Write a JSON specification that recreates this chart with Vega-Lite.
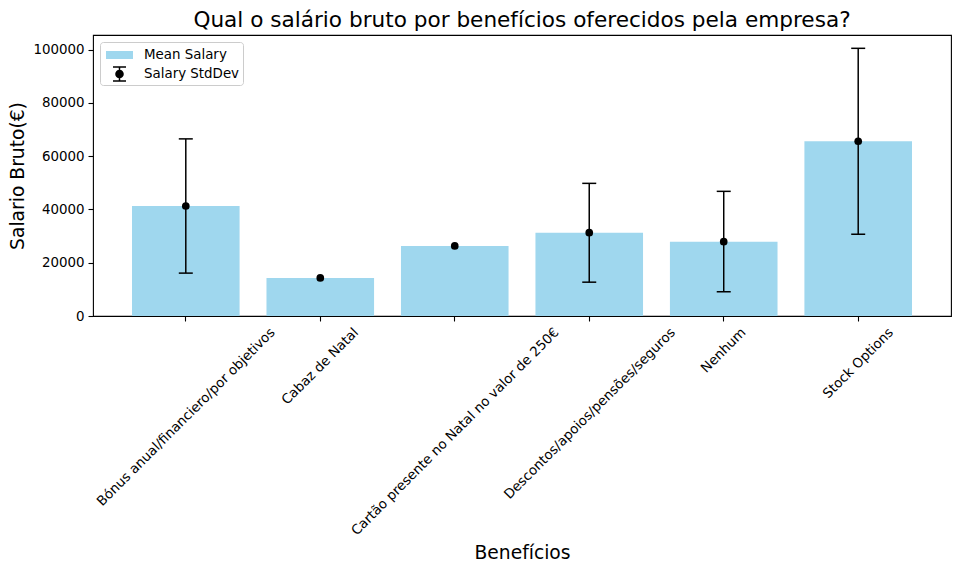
{
  "$schema": "https://vega.github.io/schema/vega-lite/v6.json",
  "description": "Salário bruto médio e desvio padrão por benefício",
  "width": 858,
  "height": 281,
  "autosize": {"type": "none"},
  "padding": {"left": 93, "top": 35, "right": 9, "bottom": 256},
  "background": "white",
  "title": {
    "text": "Qual o salário bruto por benefícios oferecidos pela empresa?",
    "fontSize": 21.6,
    "fontWeight": "normal",
    "color": "black",
    "anchor": "middle",
    "frame": "group",
    "baseline": "bottom",
    "offset": 4,
    "dy": 23
  },
  "data": {
    "values": [
      {"beneficio": "Bónus anual/financiero/por objetivos", "mean": 41300, "lo": 16100, "hi": 66500},
      {"beneficio": "Cabaz de Natal", "mean": 14300, "lo": null, "hi": null},
      {"beneficio": "Cartão presente no Natal no valor de 250€", "mean": 26300, "lo": null, "hi": null},
      {"beneficio": "Descontos/apoios/pensões/seguros", "mean": 31300, "lo": 12700, "hi": 49800},
      {"beneficio": "Nenhum", "mean": 27900, "lo": 9100, "hi": 46800},
      {"beneficio": "Stock Options", "mean": 65600, "lo": 30700, "hi": 100500}
    ]
  },
  "encoding": {
    "x": {
      "field": "beneficio",
      "type": "nominal",
      "sort": null,
      "title": "Benefícios",
      "scale": {"paddingInner": 0.2, "paddingOuter": 0.29},
      "axis": {
        "labelAngle": -45,
        "labelAlign": "right",
        "labelBaseline": "top",
        "labelPadding": 4,
        "labelLimit": 0,
        "titlePadding": 27,
        "labelOffset": {
          "condition": [
            {"test": "datum.label === 'Bónus anual/financiero/por objetivos'", "value": 82},
            {"test": "datum.label === 'Cabaz de Natal'", "value": 31},
            {"test": "datum.label === 'Cartão presente no Natal no valor de 250€'", "value": 97},
            {"test": "datum.label === 'Descontos/apoios/pensões/seguros'", "value": 79},
            {"test": "datum.label === 'Nenhum'", "value": 15}
          ],
          "value": 28
        }
      }
    }
  },
  "layer": [
    {
      "mark": {"type": "bar"},
      "encoding": {
        "y": {
          "field": "mean",
          "type": "quantitative",
          "title": "Salario Bruto(€)",
          "scale": {"domain": [0, 105500], "nice": false},
          "axis": {"values": [0, 20000, 40000, 60000, 80000, 100000], "format": "d"}
        },
        "color": {
          "datum": "Mean Salary",
          "type": "nominal",
          "scale": {"domain": ["Mean Salary", "Salary StdDev"], "range": ["#9fd7ee", "black"]},
          "legend": {
            "title": null,
            "orient": "top-left",
            "offset": 7,
            "padding": 3,
            "rowPadding": 2,
            "symbolSize": 400,
            "symbolStrokeWidth": 0,
            "symbolOpacity": 1,
            "labelOffset": 21,
            "labelFontSize": 13.4,
            "labelColor": "black",
            "fillColor": "white",
            "strokeColor": "#cccccc",
            "cornerRadius": 3,
            "encode": {
              "symbols": {
                "update": {
                  "shape": {"signal": "datum.value === 'Mean Salary' ? 'M-0.7,-0.4H2.0V0.4H-0.7Z' : 'M0.575,-0.7H0.725V0.7H0.575Z M0,-0.775H1.3V-0.625H0Z M0,0.625H1.3V0.775H0Z M0.22,0A0.43,0.43 0 1,1 1.08,0A0.43,0.43 0 1,1 0.22,0Z'"}
                }
              }
            }
          }
        }
      }
    },
    {
      "transform": [{"filter": "isValid(datum.lo)"}],
      "mark": {"type": "rule", "color": "black", "strokeWidth": 1.5},
      "encoding": {
        "y": {"field": "lo", "type": "quantitative"},
        "y2": {"field": "hi"}
      }
    },
    {
      "transform": [{"filter": "isValid(datum.lo)"}],
      "mark": {"type": "tick", "color": "black", "size": 14, "thickness": 1.5, "opacity": 1},
      "encoding": {
        "y": {"field": "lo", "type": "quantitative"}
      }
    },
    {
      "transform": [{"filter": "isValid(datum.hi)"}],
      "mark": {"type": "tick", "color": "black", "size": 14, "thickness": 1.5, "opacity": 1},
      "encoding": {
        "y": {"field": "hi", "type": "quantitative"}
      }
    },
    {
      "mark": {"type": "point", "filled": true, "size": 59, "opacity": 1},
      "encoding": {
        "y": {"field": "mean", "type": "quantitative"},
        "color": {"datum": "Salary StdDev", "type": "nominal"}
      }
    }
  ],
  "config": {
    "font": "DejaVu Sans",
    "view": {"stroke": "black", "strokeWidth": 1.1},
    "axis": {
      "grid": false,
      "domain": false,
      "tickColor": "black",
      "tickSize": 5,
      "tickWidth": 1.1,
      "labelFont": "DejaVu Sans",
      "labelFontSize": 13.4,
      "labelColor": "black",
      "titleFont": "DejaVu Sans",
      "titleFontSize": 18.7,
      "titleFontWeight": "normal",
      "titleColor": "black"
    },
    "axisY": {"labelPadding": 4, "titlePadding": 5},
    "legend": {"labelFont": "DejaVu Sans"}
  }
}
